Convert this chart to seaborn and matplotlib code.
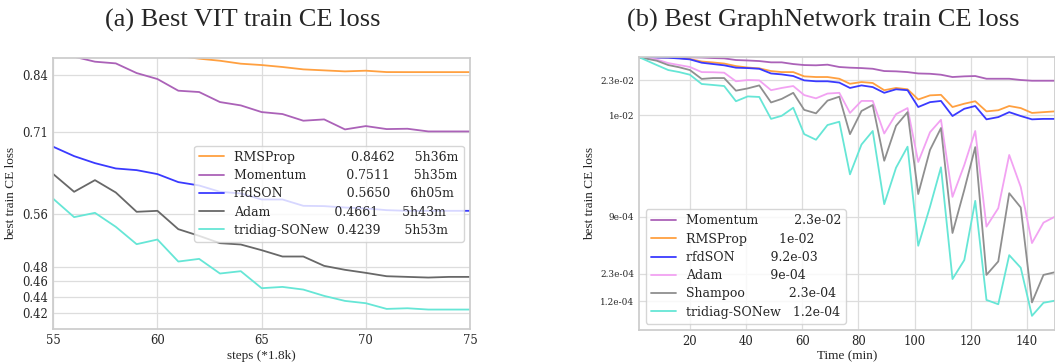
import matplotlib
matplotlib.use("Agg")
import matplotlib.pyplot as plt
import seaborn as sns
import pandas as pd
from matplotlib.ticker import NullLocator, NullFormatter

# (a) VIT: best train CE loss vs steps (*1.8k)
vit_steps = [55, 56, 57, 58, 59, 60, 61, 62, 63, 64, 65, 66, 67, 68, 69, 70, 71, 72, 73, 74, 75]
vit_rmsprop = [0.955, 0.94, 0.925, 0.91, 0.90, 0.893, 0.887, 0.880, 0.8747, 0.8672, 0.8638,
               0.8589, 0.853, 0.8505, 0.848, 0.8497, 0.8463, 0.8462, 0.8462, 0.8462, 0.8462]
vit_momentum = [0.905, 0.885, 0.8723, 0.868, 0.8439, 0.8293, 0.8016, 0.7985, 0.7755, 0.768, 0.7532,
                0.7489, 0.7345, 0.7373, 0.7161, 0.7231, 0.7168, 0.7175, 0.7119, 0.7119, 0.7119]
vit_rfdson = [0.6808, 0.6625, 0.6491, 0.6391, 0.636, 0.6287, 0.6142, 0.6082, 0.5971, 0.5942, 0.5839,
              0.5839, 0.5732, 0.5727, 0.5704, 0.5688, 0.566, 0.5649, 0.5649, 0.5649, 0.5649]
vit_adam = [0.6287, 0.5971, 0.6177, 0.5959, 0.5633, 0.5649, 0.5355, 0.5252, 0.5141, 0.5121, 0.5037,
            0.4945, 0.4945, 0.4812, 0.4757, 0.4715, 0.4669, 0.466, 0.4651, 0.466, 0.466]
vit_tridiag = [0.585, 0.5546, 0.5616, 0.5392, 0.5126, 0.5196, 0.4873, 0.4911, 0.4706, 0.4738, 0.4509,
               0.4526, 0.4491, 0.4409, 0.4345, 0.4316, 0.4245, 0.4253, 0.4237, 0.4237, 0.4237]
vit_labels = [
    "RMSProp              0.8462     5h36m",
    "Momentum          0.7511      5h35m",
    "rfdSON                0.5650     6h05m",
    "Adam                0.4661      5h43m",
    "tridiag-SONew  0.4239      5h53m",
]
vit_yticks = [0.42, 0.44, 0.46, 0.48, 0.56, 0.71, 0.84]

# (b) GraphNetwork: best train CE loss vs time (min)
gn_time = [2, 8.2, 12.3, 16.2, 20.0, 24.2, 28.3, 32.2, 36.4, 40.6, 44.7, 48.9, 52.7, 56.8, 60.7,
           64.9, 69.0, 73.2, 77.0, 81.1, 85.1, 89.2, 93.4, 97.5, 101.3, 105.5, 109.4, 113.5, 117.7,
           121.6, 125.6, 129.8, 133.7, 137.8, 141.8, 145.9, 150.0]
gn_momentum = [3.98e-2, 3.98e-2, 3.98e-2, 3.98e-2, 3.98e-2, 3.96e-2, 3.91e-2, 3.88e-2, 3.73e-2,
               3.69e-2, 3.64e-2, 3.53e-2, 3.53e-2, 3.39e-2, 3.31e-2, 3.29e-2, 3.34e-2, 3.16e-2,
               3.11e-2, 3.08e-2, 3.03e-2, 2.87e-2, 2.85e-2, 2.80e-2, 2.71e-2, 2.69e-2, 2.63e-2,
               2.49e-2, 2.53e-2, 2.55e-2, 2.39e-2, 2.39e-2, 2.39e-2, 2.32e-2, 2.28e-2, 2.28e-2, 2.28e-2]
gn_rmsprop = [3.98e-2, 3.98e-2, 3.97e-2, 3.91e-2, 3.82e-2, 3.60e-2, 3.52e-2, 3.43e-2, 3.23e-2,
              3.12e-2, 3.06e-2, 2.87e-2, 2.80e-2, 2.80e-2, 2.53e-2, 2.49e-2, 2.49e-2, 2.39e-2,
              2.12e-2, 2.21e-2, 2.16e-2, 1.82e-2, 1.92e-2, 1.86e-2, 1.46e-2, 1.61e-2, 1.63e-2,
              1.22e-2, 1.32e-2, 1.40e-2, 1.10e-2, 1.13e-2, 1.25e-2, 1.19e-2, 1.06e-2, 1.08e-2, 1.10e-2]
gn_rfdson = [3.98e-2, 3.96e-2, 3.94e-2, 3.87e-2, 3.79e-2, 3.50e-2, 3.39e-2, 3.29e-2, 3.11e-2,
             3.08e-2, 3.03e-2, 2.71e-2, 2.65e-2, 2.55e-2, 2.30e-2, 2.25e-2, 2.25e-2, 2.18e-2,
             1.92e-2, 2.04e-2, 1.96e-2, 1.71e-2, 1.86e-2, 1.82e-2, 1.22e-2, 1.37e-2, 1.41e-2,
             9.85e-3, 1.17e-2, 1.25e-2, 9.1e-3, 9.6e-3, 1.08e-2, 9.85e-3, 9.1e-3, 9.2e-3, 9.2e-3]
gn_adam = [3.98e-2, 3.77e-2, 3.47e-2, 3.31e-2, 3.16e-2, 2.80e-2, 2.79e-2, 2.76e-2, 2.25e-2,
           2.32e-2, 2.30e-2, 1.82e-2, 1.92e-2, 2.01e-2, 1.62e-2, 1.50e-2, 1.68e-2, 1.71e-2,
           1.06e-2, 1.41e-2, 1.41e-2, 6.5e-3, 1.03e-2, 1.19e-2, 3.3e-3, 6.7e-3, 9.0e-3,
           1.44e-3, 3.07e-3, 6.9e-3, 7.1e-4, 1.10e-3, 3.9e-3, 1.82e-3, 4.8e-4, 7.8e-4, 9.0e-4]
gn_shampoo = [3.98e-2, 3.67e-2, 3.31e-2, 3.14e-2, 2.94e-2, 2.38e-2, 2.43e-2, 2.43e-2, 1.80e-2,
              1.90e-2, 2.04e-2, 1.36e-2, 1.48e-2, 1.71e-2, 1.14e-2, 1.05e-2, 1.42e-2, 1.56e-2,
              6.4e-3, 1.11e-2, 1.28e-2, 3.4e-3, 7.8e-3, 1.08e-2, 1.54e-3, 4.4e-3, 7.4e-3,
              6.1e-4, 1.70e-3, 4.7e-3, 2.25e-4, 3.1e-4, 1.57e-3, 1.12e-3, 1.17e-4, 2.25e-4, 2.4e-4]
gn_tridiag = [3.98e-2, 3.31e-2, 2.94e-2, 2.80e-2, 2.63e-2, 2.11e-2, 2.06e-2, 2.01e-2, 1.40e-2,
              1.57e-2, 1.55e-2, 9.2e-3, 9.9e-3, 1.2e-2, 6.4e-3, 5.6e-3, 7.95e-3, 8.6e-3,
              2.46e-3, 5.0e-3, 6.9e-3, 1.21e-3, 2.88e-3, 4.75e-3, 4.5e-4, 1.14e-3, 2.91e-3,
              2.04e-4, 3.2e-4, 1.31e-3, 1.24e-4, 1.12e-4, 3.6e-4, 2.67e-4, 8.5e-5, 1.16e-4, 1.22e-4]
gn_labels = [
    "Momentum         2.3e-02",
    "RMSProp        1e-02",
    "rfdSON         9.2e-03",
    "Adam            9e-04",
    "Shampoo           2.3e-04",
    "tridiag-SONew   1.2e-04",
]
gn_yticks = [1.2e-4, 2.3e-4, 9e-4, 1e-2, 2.3e-2]
gn_yticklabels = ["1.2e-04", "2.3e-04", "9e-04", "1e-02", "2.3e-02"]

sns.set_theme(style="whitegrid")
plt.rcParams["font.family"] = ["DejaVu Serif"]

fig = plt.figure(figsize=(10.55, 3.62), dpi=100)
ax1 = fig.add_axes([0.0505, 0.0903, 0.395, 0.7487])
ax2 = fig.add_axes([0.606, 0.0884, 0.394, 0.7533])

# left panel
vit_series = [vit_rmsprop, vit_momentum, vit_rfdson, vit_adam, vit_tridiag]
vit_colors = ["#ffa040", "#ab62b8", "#3a3aff", "#686868", "#66e6d6"]
for vals, col, lab in zip(vit_series, vit_colors, vit_labels):
    df = pd.DataFrame({"step": vit_steps, "loss": vals})
    sns.lineplot(data=df, x="step", y="loss", ax=ax1, color=col, lw=1.3, label=lab)

ax1.set_yscale("log")
ax1.set_xlim(55, 75)
ax1.set_ylim(0.40, 0.881)
ax1.yaxis.set_minor_locator(NullLocator())
ax1.yaxis.set_minor_formatter(NullFormatter())
ax1.set_yticks(vit_yticks)
ax1.set_yticklabels([f"{v:.2f}" for v in vit_yticks])
ax1.set_xticks([55, 60, 65, 70, 75])
ax1.tick_params(axis="x", labelsize=8.4, length=0, pad=3.5)
ax1.tick_params(axis="y", labelsize=8.4, length=0, pad=3.8)
ax1.set_xlabel("steps (*1.8k)", family="Liberation Serif", fontsize=9.5, labelpad=2)
ax1.set_ylabel("best train CE loss", family="Liberation Serif", fontsize=9.5, labelpad=4)
ax1.legend(loc="center right", fontsize=9, handlelength=2.0, labelspacing=0.42,
           borderpad=0.4, framealpha=0.8)

# right panel
gn_series = [gn_momentum, gn_rmsprop, gn_rfdson, gn_adam, gn_shampoo, gn_tridiag]
gn_colors = ["#ab62b8", "#ffa040", "#3a3aff", "#f2a2f2", "#8f8f8f", "#66e6d6"]
for vals, col, lab in zip(gn_series, gn_colors, gn_labels):
    df = pd.DataFrame({"time": gn_time, "loss": vals})
    sns.lineplot(data=df, x="time", y="loss", ax=ax2, color=col, lw=1.3, label=lab)

ax2.set_yscale("log")
ax2.set_xlim(2, 150)
ax2.set_ylim(6.07e-5, 3.98e-2)
ax2.yaxis.set_minor_locator(NullLocator())
ax2.yaxis.set_minor_formatter(NullFormatter())
ax2.set_yticks(gn_yticks)
ax2.set_yticklabels(gn_yticklabels)
ax2.set_xticks([20, 40, 60, 80, 100, 120, 140])
ax2.tick_params(axis="x", labelsize=8.4, length=0, pad=3.5)
ax2.tick_params(axis="y", labelsize=6.4, length=0, pad=3.5)
ax2.set_xlabel("Time (min)", family="Liberation Serif", fontsize=9.5, labelpad=2)
ax2.set_ylabel("best train CE loss", family="Liberation Serif", fontsize=9.5, labelpad=3)
ax2.legend(loc="lower left", fontsize=9, handlelength=2.0, labelspacing=0.42,
           borderpad=0.4, framealpha=0.8)

for ax in (ax1, ax2):
    for sp in ax.spines.values():
        sp.set_color("#cccccc")
    ax.grid(True, color="#dddddd", lw=0.9)

fig.text(242.5 / 1055, 0.926, "(a) Best VIT train CE loss", family="Liberation Serif",
         fontsize=19, ha="center", va="baseline")
fig.text(823 / 1055, 0.926, "(b) Best GraphNetwork train CE loss", family="Liberation Serif",
         fontsize=19, ha="center", va="baseline")

fig.savefig("out.png", dpi=100)
